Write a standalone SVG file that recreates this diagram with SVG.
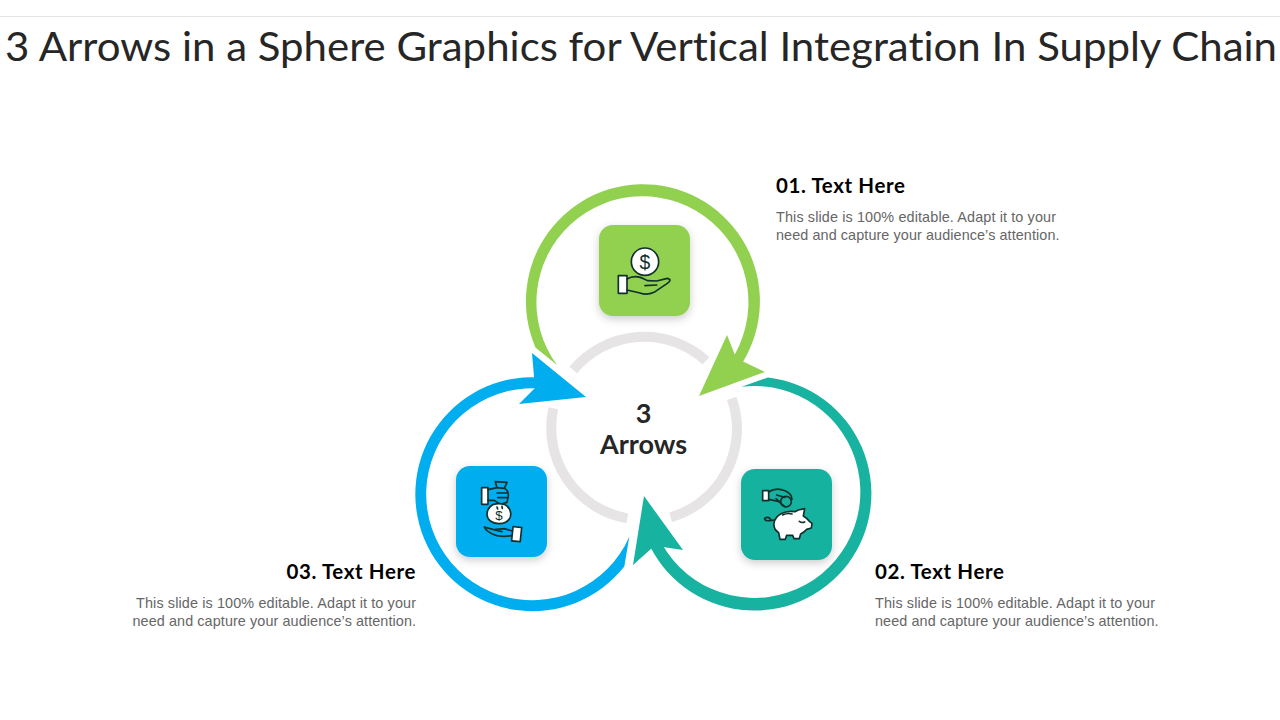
<svg xmlns="http://www.w3.org/2000/svg" width="1280" height="720" viewBox="0 0 1280 720">
<style>
.title{font-family:"Lato","Open Sans",sans-serif;font-size:41px;fill:#262626;font-variant-ligatures:none}
.head{font-family:"Lato","Open Sans",sans-serif;font-size:20.5px;font-weight:700;fill:#000;letter-spacing:.6px}
.body{font-family:"Liberation Sans",Arial,sans-serif;font-size:14.4px;fill:#666}
.center{font-family:"Lato","Open Sans",sans-serif;font-size:27px;font-weight:700;fill:#262626;text-anchor:middle}
.ring{fill:none;stroke:#e6e4e4;stroke-width:10}
.ic{stroke:#10302c;stroke-width:5;stroke-linejoin:round;stroke-linecap:round}
.w{fill:#fff}
.n{fill:none}
.dollar{font-family:"Liberation Sans",Arial,sans-serif;fill:#10302c;text-anchor:middle;stroke:none}
</style>
<defs>
<filter id="sh" x="-20%" y="-20%" width="140%" height="140%"><feDropShadow dx="0" dy="3" stdDeviation="4" flood-color="#000" flood-opacity=".2"/></filter>
</defs>
<rect width="1280" height="720" fill="#fff"/>
<line x1="0" y1="16.5" x2="1280" y2="16.5" stroke="#e4e4e4"/>
<text class="title" x="5" y="61" textLength="1272" lengthAdjust="spacingAndGlyphs">3 Arrows in a Sphere Graphics for Vertical Integration In Supply Chain</text>

<g id="connectors">
<path class="ring" d="M573.3 370A92 92 0 0 1 706 360.7"/>
<path class="ring" d="M731.7 398.3A92 92 0 0 1 670.7 517.3"/>
<path class="ring" d="M627.3 518.3A92 92 0 0 1 553.3 408.3"/>
<path id="arrow-green" fill="#92d050" d="M557 365L535.4 347.4A117 117 0 1 1 739 368L730 362A106 106 0 1 0 557 365Z"/>
<polygon fill="#92d050" points="699,396 727,335 735,355 742,361 765,372"/>
<path id="arrow-teal" fill="#17b2a0" d="M741.7 386.7L768 377.4A117 117 0 1 1 647 540L657.5 535A106 106 0 1 0 741.7 386.7Z"/>
<polygon fill="#17b2a0" points="644,496 683,550 663,547 652,548 633,565"/>
<path id="arrow-blue" fill="#00aeef" d="M629.3 536.7L624.3 566.5A117 117 0 1 1 546 378L545 389A106 106 0 1 0 629.3 536.7Z"/>
<polygon fill="#00aeef" points="586,397 519,404 535,388 532,353"/>
</g>

<g id="node-1">
<rect x="599" y="225" width="91" height="91" rx="14" fill="#92d050" filter="url(#sh)"/>
<g transform="translate(590 215) scale(.3333)" class="ic">
<circle class="w" cx="165" cy="140" r="41"/>
<text class="dollar" x="165" y="161" font-size="58">$</text>
<rect class="w" x="85" y="182" width="26" height="53"/>
<path class="n" d="M111 192C130 180 150 183 172 197L200 198L232 190Q248 194 232 205L192 232Q170 242 150 234L111 225M165 212L200 210"/>
</g>
<text class="head" x="776" y="193">01. Text Here</text>
<text class="body" x="776" y="222" textLength="280">This slide is 100% editable. Adapt it to your</text>
<text class="body" x="776" y="240" textLength="283.5">need and capture your audience’s attention.</text>
</g>

<g id="node-2">
<rect x="741" y="469" width="91" height="91" rx="14" fill="#17b2a0" filter="url(#sh)"/>
<g transform="translate(730 460) scale(.3333)" class="ic">
<rect class="w" x="98" y="92" width="18" height="30"/>
<path class="n" d="M116 96C130 86 150 86 165 92Q185 100 186 118M116 118L145 124Q155 132 165 140"/>
<circle class="n" cx="168" cy="125" r="16"/>
<path class="n" d="M140 105L165 112M138 116L152 128"/>
<path class="w" d="M132 190C135 165 165 150 195 155L205 150L224 146L220 168Q232 175 238 184L246 190L244 204L230 208Q222 218 212 222L208 236H192L188 226H170L166 238H150L146 218Q130 208 132 190Z"/>
<path class="n" d="M158 165Q172 158 186 162M208 184Q216 190 224 186M132 180C120 182 108 186 104 178C104 170 118 170 122 178"/>
</g>
<text class="head" x="875" y="579">02. Text Here</text>
<text class="body" x="875" y="608" textLength="280">This slide is 100% editable. Adapt it to your</text>
<text class="body" x="875" y="626" textLength="283.5">need and capture your audience’s attention.</text>
</g>

<g id="node-3">
<rect x="456" y="466" width="91" height="91" rx="14" fill="#00aeef" filter="url(#sh)"/>
<g transform="translate(447 457) scale(.3333)" class="ic">
<rect class="w" x="104" y="92" width="19" height="50"/>
<path class="n" d="M123 98L150 92L145 74L180 76L172 94Q185 100 184 118L180 136L160 142L142 130H123M150 92L172 94M150 108H182M152 122H182"/>
<path class="w" d="M140 142Q155 138 172 142C188 150 194 166 190 180C184 196 170 200 155 200C135 200 120 188 120 172C120 158 128 148 140 142Z"/>
<text class="dollar" x="156" y="190" font-size="40">$</text>
<path class="n" d="M150 150L152 156M165 148L166 154"/>
<rect class="w" x="196" y="210" width="26" height="43" transform="rotate(6 209 231)"/>
<path class="n" d="M196 222L172 215L140 218L112 210Q118 226 150 236Q170 240 194 236M140 218L165 224"/>
</g>
<text class="head" x="416" y="579" text-anchor="end">03. Text Here</text>
<text class="body" x="416" y="608" text-anchor="end" textLength="280">This slide is 100% editable. Adapt it to your</text>
<text class="body" x="416" y="626" text-anchor="end" textLength="283.5">need and capture your audience’s attention.</text>
</g>

<g id="center">
<text class="center" x="643.5" y="423">3</text>
<text class="center" x="643.5" y="454">Arrows</text>
</g>
</svg>
